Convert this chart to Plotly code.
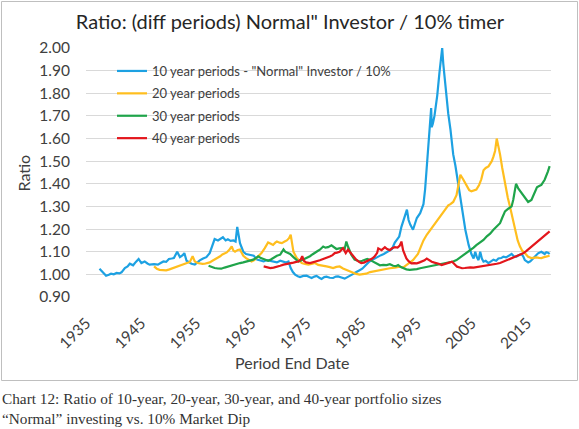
import plotly.graph_objects as go

# ---------------- data ----------------
years_10 = [1936.9,1937.5,1938.1,1938.6,1939.0,1939.5,1940.0,1940.5,1940.9,1941.5,1942.0,1942.4,1943.0,1943.5,
            1944.0,1944.5,1945.1,1945.6,1946.0,1946.8,1947.5,1948.0,1948.5,1949.0,1949.5,1950.0,1950.4,1951.0,
            1951.5,1952.0,1952.3,1952.7,1953.2,1953.6,1954.2,1954.7,1955.1,1955.7,1956.3,1956.9,1957.4,1957.8,
            1958.4,1958.9,1959.3,1959.8,1960.2,1960.7,1961.2,1961.6,1961.9,1962.4,1963.0,1963.5,1963.9,1964.4,
            1964.9,1965.5,1966.0,1966.7,1967.3,1967.9,1968.5,1969.1,1969.7,1970.3,1970.8,1971.2,1971.6,1972.0,
            1972.4,1972.9,1973.3,1973.9,1974.5,1975.0,1975.4,1975.9,1976.3,1976.8,1977.2,1977.7,1978.1,1978.7,
            1979.3,1979.8,1980.2,1980.8,1981.4,1981.9,1982.3,1982.8,1983.2,1983.6,1984.1,1984.6,1985.0,1985.5,
            1985.9,1986.5,1987.0,1987.5,1988.0,1988.5,1989.0,1989.5,1990.0,1990.5,1991.0,1991.3,1991.7,1992.2,
            1992.7,1993.0,1993.3,1993.8,1994.2,1994.5,1995.1,1995.5,1995.7,1996.0,1996.3,1996.6,1996.9,1997.1,
            1997.2,1997.4,1997.7,1998.2,1998.6,1999.1,1999.3,1999.7,2000.2,2000.6,2001.1,2001.5,2002.0,2002.4,
            2002.9,2003.3,2003.9,2004.4,2004.8,2005.1,2005.4,2005.7,2006.0,2006.3,2006.6,2007.0,2007.5,2008.0,
            2008.4,2008.9,2009.3,2009.8,2010.2,2010.7,2011.1,2011.7,2012.1,2012.6,2013.0,2013.5,2013.8,2014.1,
            2014.7,2015.1,2015.6,2016.0,2016.5,2017.1,2017.4,2017.7,2018.0,2018.3,2018.6]
ratio_10 = [1.025,1.010,0.994,0.998,1.003,1.000,1.006,1.004,1.009,1.028,1.035,1.047,1.040,1.055,
            1.068,1.050,1.057,1.048,1.043,1.045,1.043,1.050,1.057,1.055,1.068,1.070,1.072,1.100,
            1.076,1.085,1.094,1.060,1.052,1.047,1.043,1.055,1.062,1.070,1.076,1.094,1.130,1.156,
            1.150,1.158,1.164,1.150,1.155,1.148,1.150,1.145,1.210,1.138,1.100,1.090,1.087,1.085,
            1.082,1.065,1.062,1.057,1.063,1.060,1.058,1.053,1.060,1.056,1.052,1.057,1.028,1.010,
            0.999,0.992,0.988,0.993,0.994,0.988,0.984,0.990,0.993,0.985,0.980,0.988,0.990,0.985,
            0.984,0.990,0.991,0.986,0.981,0.988,0.992,1.000,1.006,1.010,1.018,1.025,1.035,1.045,
            1.057,1.065,1.072,1.080,1.085,1.090,1.098,1.105,1.112,1.140,1.160,1.167,1.210,1.250,
            1.286,1.240,1.220,1.197,1.230,1.249,1.270,1.300,1.310,1.376,1.464,1.550,1.660,1.735,
            1.650,1.665,1.700,1.790,1.890,2.000,1.930,1.830,1.710,1.640,1.530,1.480,1.400,1.343,
            1.260,1.197,1.130,1.090,1.070,1.100,1.075,1.063,1.100,1.070,1.056,1.060,1.050,1.058,
            1.065,1.060,1.070,1.072,1.078,1.075,1.082,1.090,1.080,1.078,1.085,1.090,1.080,1.063,
            1.053,1.058,1.070,1.080,1.093,1.100,1.095,1.090,1.098,1.096,1.090]

years_20 = [1946.8,1947.3,1947.8,1948.4,1949.0,1949.6,1950.3,1950.9,1951.5,1952.1,1952.7,1953.3,1953.8,1954.2,
            1954.7,1955.1,1955.6,1956.0,1956.5,1956.9,1957.4,1957.8,1958.3,1958.8,1959.2,1959.6,1960.0,1960.5,
            1960.9,1961.2,1961.5,1962.0,1962.4,1962.7,1963.0,1963.5,1963.9,1964.5,1965.0,1965.4,1965.9,1966.3,
            1966.9,1967.5,1968.0,1968.4,1968.8,1969.1,1969.6,1970.0,1970.5,1970.9,1971.3,1971.6,1971.9,1972.1,
            1972.7,1973.1,1973.6,1974.2,1974.8,1975.4,1976.0,1976.6,1977.2,1977.7,1978.1,1978.7,1979.3,1979.9,
            1980.5,1981.1,1981.7,1982.3,1982.9,1983.5,1984.1,1984.7,1985.3,1986.0,1986.9,1987.8,1988.7,1989.6,
            1990.5,1991.4,1992.0,1992.6,1993.2,1993.8,1994.2,1994.7,1995.2,1995.7,1996.3,1996.9,1997.5,1998.1,
            1998.7,1999.3,1999.8,2000.2,2000.6,2001.1,2001.7,2002.1,2002.4,2002.9,2003.5,2004.0,2004.4,2004.9,
            2005.3,2005.8,2006.2,2006.6,2007.0,2007.5,2008.1,2008.4,2008.7,2009.0,2009.3,2009.6,2010.0,2010.5,
            2011.0,2011.4,2011.9,2012.3,2012.8,2013.2,2013.6,2014.1,2014.7,2015.3,2015.8,2016.2,2016.7,2017.1,
            2017.6,2018.0,2018.6]
ratio_20 = [1.035,1.025,1.020,1.018,1.018,1.022,1.028,1.032,1.038,1.044,1.050,1.055,1.080,1.057,
            1.050,1.047,1.046,1.047,1.050,1.053,1.060,1.065,1.072,1.080,1.088,1.094,1.097,1.110,
            1.123,1.105,1.100,1.108,1.110,1.095,1.082,1.072,1.065,1.057,1.063,1.072,1.083,1.094,
            1.116,1.141,1.135,1.130,1.140,1.145,1.140,1.138,1.145,1.150,1.160,1.175,1.130,1.100,
            1.072,1.060,1.050,1.046,1.043,1.046,1.050,1.042,1.038,1.036,1.035,1.032,1.028,1.033,
            1.035,1.026,1.020,1.012,1.006,1.002,0.999,1.001,1.003,1.010,1.015,1.020,1.022,1.027,
            1.030,1.034,1.030,1.040,1.050,1.063,1.075,1.090,1.120,1.150,1.175,1.195,1.215,1.232,
            1.250,1.270,1.290,1.305,1.310,1.320,1.350,1.400,1.440,1.420,1.390,1.372,1.367,1.370,
            1.375,1.395,1.420,1.460,1.470,1.477,1.500,1.520,1.545,1.600,1.570,1.530,1.470,1.400,
            1.340,1.300,1.245,1.197,1.150,1.124,1.105,1.094,1.078,1.072,1.074,1.075,1.073,1.072,
            1.076,1.078,1.082]

years_30 = [1956.7,1957.2,1957.8,1958.4,1959.0,1959.6,1960.2,1960.8,1961.2,1961.8,1962.4,1963.0,1963.6,1964.2,
            1964.8,1965.3,1965.7,1966.2,1966.7,1967.1,1967.5,1968.0,1968.4,1969.1,1969.7,1970.3,1970.6,1970.9,
            1971.5,1972.1,1972.5,1973.0,1973.6,1974.2,1974.7,1975.1,1975.6,1976.0,1976.5,1976.9,1977.5,1977.9,
            1978.4,1979.0,1979.5,1979.9,1980.4,1980.8,1981.4,1981.7,1982.0,1982.3,1982.6,1983.2,1983.7,1984.1,
            1984.6,1985.0,1985.5,1985.9,1986.4,1986.9,1987.4,1987.8,1988.4,1989.0,1989.6,1990.2,1990.7,1991.1,
            1991.6,1992.0,1992.6,1993.2,1993.8,1994.5,1995.1,1995.7,1996.3,1996.9,1997.5,1998.1,1998.7,1999.3,
            1999.9,2000.5,2001.1,2001.7,2002.3,2002.9,2003.6,2004.2,2004.8,2005.3,2006.0,2006.6,2007.2,2007.8,
            2008.4,2009.0,2009.6,2010.0,2010.5,2011.1,2011.7,2012.0,2012.3,2012.5,2012.9,2013.5,2014.1,2014.7,
            2015.3,2015.9,2016.3,2016.7,2017.1,2017.7,2018.0,2018.3,2018.6]
ratio_30 = [1.038,1.033,1.028,1.026,1.025,1.030,1.035,1.040,1.043,1.046,1.050,1.053,1.057,1.060,
            1.065,1.072,1.080,1.072,1.068,1.064,1.060,1.066,1.072,1.082,1.087,1.110,1.100,1.097,
            1.090,1.076,1.066,1.057,1.062,1.068,1.074,1.080,1.089,1.097,1.103,1.109,1.123,1.118,
            1.120,1.128,1.120,1.112,1.115,1.116,1.112,1.145,1.123,1.100,1.087,1.065,1.060,1.057,
            1.060,1.065,1.068,1.065,1.058,1.049,1.043,1.040,1.042,1.041,1.045,1.038,1.036,1.041,
            1.032,1.027,1.022,1.020,1.021,1.023,1.027,1.030,1.034,1.037,1.039,1.041,1.045,1.049,
            1.050,1.052,1.057,1.063,1.073,1.085,1.096,1.107,1.118,1.129,1.142,1.152,1.168,1.180,
            1.197,1.210,1.226,1.250,1.278,1.290,1.300,1.330,1.370,1.400,1.380,1.360,1.336,1.320,
            1.329,1.360,1.385,1.390,1.395,1.418,1.435,1.455,1.478]

years_40 = [1966.7,1967.3,1967.9,1968.5,1969.1,1969.7,1970.3,1970.9,1971.5,1972.1,1972.6,1973.0,1973.4,1973.7,
            1974.0,1974.4,1975.1,1975.7,1976.3,1976.9,1977.5,1978.1,1978.7,1979.2,1979.6,1980.0,1980.5,1981.1,
            1981.6,1982.0,1982.3,1982.6,1983.1,1983.5,1984.0,1984.4,1984.9,1985.3,1985.9,1986.4,1986.8,1987.3,
            1987.5,1988.1,1988.7,1989.1,1989.6,1990.0,1990.5,1991.0,1991.4,1991.7,1992.0,1992.3,1992.6,1993.0,
            1993.5,1994.0,1994.5,1995.0,1995.4,1995.9,1996.3,1996.8,1997.2,1997.7,1998.1,1998.6,1999.0,1999.5,
            2000.0,2000.5,2000.9,2001.4,2001.8,2002.3,2002.7,2003.2,2003.6,2004.2,2004.8,2005.4,2006.0,2006.6,
            2007.2,2007.8,2008.4,2009.0,2009.6,2010.2,2010.8,2011.4,2012.0,2012.6,2013.2,2013.8,2014.4,2015.0,
            2015.6,2016.2,2016.8,2017.4,2018.0,2018.6]
ratio_40 = [1.035,1.031,1.028,1.030,1.033,1.038,1.043,1.045,1.050,1.052,1.055,1.057,1.065,1.080,
            1.060,1.053,1.050,1.053,1.057,1.062,1.068,1.072,1.079,1.085,1.094,1.096,1.100,1.116,
            1.094,1.109,1.100,1.087,1.072,1.065,1.055,1.050,1.052,1.057,1.062,1.070,1.078,1.095,
            1.115,1.107,1.120,1.112,1.107,1.115,1.120,1.118,1.127,1.145,1.107,1.085,1.070,1.058,
            1.049,1.050,1.049,1.053,1.056,1.062,1.070,1.060,1.056,1.052,1.050,1.046,1.041,1.046,
            1.049,1.053,1.056,1.045,1.034,1.030,1.027,1.028,1.030,1.031,1.030,1.032,1.034,1.036,
            1.038,1.040,1.045,1.047,1.050,1.056,1.062,1.068,1.073,1.078,1.085,1.093,1.104,1.116,
            1.127,1.138,1.151,1.165,1.178,1.190]

series_names = ['10 year periods - "Normal" Investor / 10%', '20 year periods',
                '30 year periods', '40 year periods']
series_colors = ['#1DA1E2', '#FFBE1E', '#1FA44A', '#E3161C']
x_tick_years = [1935, 1945, 1955, 1965, 1975, 1985, 1995, 2005, 2015]
y_tick_values = [0.90, 1.00, 1.10, 1.20, 1.30, 1.40, 1.50, 1.60, 1.70, 1.80, 1.90, 2.00]

title_text = 'Ratio: (diff periods) Normal" Investor / 10% timer'
x_title = 'Period End Date'
y_title = 'Ratio'
caption_lines = ['Chart 12: Ratio of 10-year, 20-year, 30-year, and 40-year portfolio sizes',
                 '\u201cNormal\u201d investing vs. 10% Market Dip']

# ---------------- figure ----------------
W, H = 579, 429
ML, MR, MT, MB = 86, 28, 48, 132
PW, PH = W - ML - MR, H - MT - MB

def px_x(p):
    return (p - ML) / PW

def px_y(p):
    return (H - MB - p) / PH

fig = go.Figure()
for i, (xs, ys, name, col) in enumerate(zip([years_10, years_20, years_30, years_40],
                                            [ratio_10, ratio_20, ratio_30, ratio_40],
                                            series_names, series_colors)):
    fig.add_trace(go.Scatter(x=xs, y=ys, mode='lines', name=name, legendgroup='g%d' % i,
                             line=dict(color=col, width=2.2)))

txt = '#404040'
fig.update_layout(
    width=W, height=H,
    margin=dict(l=ML, r=MR, t=MT, b=MB),
    paper_bgcolor='white', plot_bgcolor='white',
    font=dict(family='Lato', color=txt),
    title=dict(text=title_text, x=290 / W, xanchor='center', xref='container',
               y=1 - 22 / H, yref='container', yanchor='middle',
               font=dict(family='Lato', size=20, color='#262626')),
    showlegend=True,
    legend=dict(x=px_x(112), y=px_y(56), xanchor='left', yanchor='top',
                bgcolor='rgba(0,0,0,0)', font=dict(family='Lato', size=13, color=txt),
                traceorder='grouped', tracegroupgap=2.5),
    xaxis=dict(range=[1934.45, 2018.85], tickmode='array', tickvals=x_tick_years,
               ticktext=[str(v) for v in x_tick_years], tickangle=-45,
               showgrid=False, zeroline=False, showline=False,
               ticks='outside', ticklen=10, tickcolor='rgba(0,0,0,0)',
               ticklabelshift=-3,
               tickfont=dict(family='Lato', size=15.5, color=txt)),
    yaxis=dict(range=[0.90, 2.00], tickmode='array', tickvals=y_tick_values,
               ticktext=['%.2f' % v for v in y_tick_values],
               showgrid=True, gridcolor='#d9d9d9', gridwidth=1,
               zeroline=False, showline=False,
               ticks='outside', ticklen=12, tickcolor='rgba(0,0,0,0)',
               tickfont=dict(family='Lato', size=15.5, color=txt)),
)

fig.add_annotation(text=y_title, xref='paper', yref='paper', x=px_x(23), y=0.5,
                   textangle=-90, showarrow=False, xanchor='center', yanchor='middle',
                   font=dict(family='Lato', size=16, color=txt))
fig.add_annotation(text=x_title, xref='paper', yref='paper', x=px_x(292), y=px_y(362),
                   showarrow=False, xanchor='center', yanchor='middle',
                   font=dict(family='Lato', size=16, color=txt))
for i, line in enumerate(caption_lines):
    fig.add_annotation(text=line, xref='paper', yref='paper', x=px_x(0), y=px_y(398 + 21 * i),
                       showarrow=False, xanchor='left', yanchor='middle',
                       font=dict(family='Liberation Serif', size=15.3, color='#333333'))

fig.add_shape(type='rect', xref='paper', yref='paper',
              x0=px_x(1.5), x1=px_x(577.5), y0=px_y(380.5), y1=px_y(1.5),
              line=dict(color='#bfbfbf', width=1), fillcolor='rgba(0,0,0,0)', layer='below')

fig.write_html('out.html', config={'displayModeBar': False},
               post_script="document.body.style.margin='0px';")
